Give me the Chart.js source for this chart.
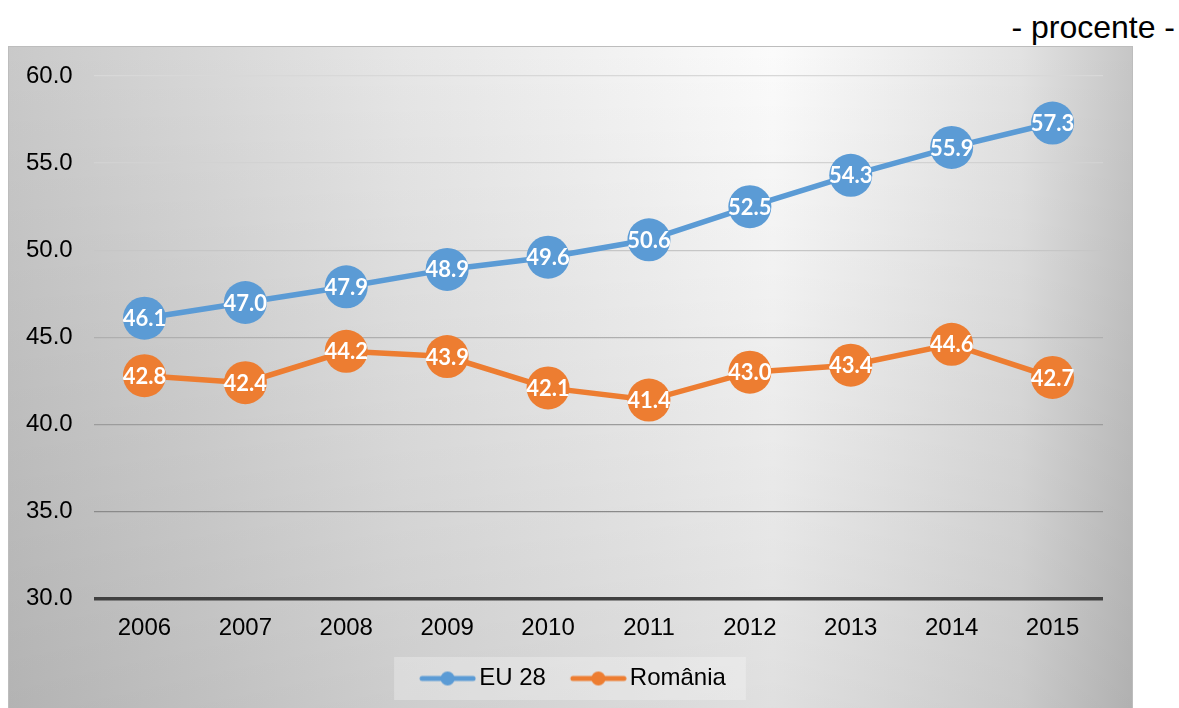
<!DOCTYPE html>
<html>
<head>
<meta charset="utf-8">
<script src="https://cdn.jsdelivr.net/npm/chart.js@4/dist/chart.umd.min.js"></script>
<style>
  html, body { margin: 0; padding: 0; background: #ffffff; }
  body { width: 1179px; height: 708px; position: relative; overflow: hidden; font-family: "Liberation Sans", Arial, sans-serif; }
  #unit { position: absolute; right: 4px; top: 11px; font-size: 32px; color: #000; line-height: 1; }
  #wrap { position: absolute; left: 8px; top: 46px; width: 1125px; height: 662px; }
</style>
</head>
<body>
<div id="unit">- procente -</div>
<div id="wrap"><canvas id="c"></canvas></div>
<script>
const categories = ["2006","2007","2008","2009","2010","2011","2012","2013","2014","2015"];
const eu28 = [46.1, 47.0, 47.9, 48.9, 49.6, 50.6, 52.5, 54.3, 55.9, 57.3];
const romania = [42.8, 42.4, 44.2, 43.9, 42.1, 41.4, 43.0, 43.4, 44.6, 42.7];
const seriesNames = ["EU 28", "România"];
const seriesColors = ["#5B9BD5", "#ED7D31"];
const yTicks = { min: 30, max: 60, step: 5 };

const gridColors = {60: "#d8d8d8", 55: "#d2d2d2", 50: "#c6c6c6", 45: "#afafaf", 40: "#9c9c9c", 35: "#8a8a8a", 30: "#404040"};

const LEG_PAD = 22;
const ICON_BOX = 50, ICON_W = 68;
function legendIcon(color) {
  const cv = document.createElement('canvas');
  cv.width = ICON_W; cv.height = 16;
  const g = cv.getContext('2d');
  const x0 = ICON_W - 57;
  g.strokeStyle = color; g.lineWidth = 5; g.lineCap = 'round';
  g.beginPath(); g.moveTo(x0 + 3, 8); g.lineTo(x0 + 54, 8); g.stroke();
  g.fillStyle = color; g.beginPath(); g.arc(x0 + 28.5, 8, 7, 0, Math.PI * 2); g.fill();
  return cv;
}

const legendShift = {
  id: 'legendShift',
  afterUpdate(chart) {
    const lg = chart.legend;
    if (!lg) return;
    lg.left += 14;
    lg.width -= 14;
  }
};

const bgPlugin = {
  id: 'bg',
  beforeDraw(chart) {
    const {ctx, width, height} = chart;
    ctx.save();
    const h = ctx.createLinearGradient(0, 0, width, 0);
    h.addColorStop(0, '#c9c9c9');
    h.addColorStop(0.35, '#e6e6e6');
    h.addColorStop(0.68, '#fbfbfb');
    h.addColorStop(0.9, '#e2e2e2');
    h.addColorStop(1, '#c6c6c6');
    ctx.fillStyle = h;
    ctx.fillRect(0, 0, width, height);
    const v = ctx.createLinearGradient(0, 0, 0, height);
    v.addColorStop(0, 'rgba(0,0,0,0)');
    v.addColorStop(1, 'rgba(0,0,0,0.11)');
    ctx.fillStyle = v;
    ctx.fillRect(0, 0, width, height);
    ctx.strokeStyle = '#bdbdbd'; ctx.lineWidth = 1;
    ctx.strokeRect(0.5, 0.5, width - 1, height);
    const lg = chart.legend;
    if (lg && lg.lineWidths && lg.lineWidths.length) {
      const lw = lg.lineWidths[0];
      const startX = (lg.left + LEG_PAD + lg.right - lw) / 2;
      const left = startX + ICON_BOX - 48 - 25;
      const right = startX + lw - LEG_PAD + 20;
      const cy = lg.top + LEG_PAD + 12;
      ctx.fillStyle = 'rgba(255,255,255,0.28)';
      ctx.fillRect(left, cy - 21.5, right - left, 43);
    }
    ctx.restore();
  }
};

const labelPlugin = {
  id: 'vlabels',
  afterDatasetsDraw(chart) {
    const {ctx} = chart;
    ctx.save();
    ctx.font = 'bold 22px Lato, "Open Sans", sans-serif';
    ctx.fillStyle = '#ffffff';
    ctx.textAlign = 'center';
    ctx.textBaseline = 'middle';
    chart.data.datasets.forEach((ds, i) => {
      const meta = chart.getDatasetMeta(i);
      meta.data.forEach((pt, j) => {
        ctx.fillText(ds.data[j].toFixed(1), pt.x, pt.y + 1);
      });
    });
    ctx.restore();
  }
};

const datasets = [eu28, romania].map((d, i) => ({
  label: seriesNames[i],
  data: d,
  borderColor: seriesColors[i],
  backgroundColor: seriesColors[i],
  pointBackgroundColor: seriesColors[i],
  pointBorderWidth: 0,
  pointRadius: 21.5,
  pointHoverRadius: 21.5,
  borderWidth: 5.5,
  tension: 0,
  clip: false
}));

new Chart(document.getElementById('c'), {
  type: 'line',
  data: { labels: categories, datasets },
  plugins: [legendShift, bgPlugin, labelPlugin],
  options: {
    responsive: true,
    maintainAspectRatio: false,
    animation: false,
    events: [],
    layout: { autoPadding: false, padding: { top: 30, right: 30, left: 18, bottom: 7.5 } },
    plugins: {
      tooltip: { enabled: false },
      legend: {
        position: 'bottom',
        labels: {
          font: { family: '"Liberation Sans", Arial, sans-serif', size: 24 },
          color: '#000000',
          usePointStyle: true,
          pointStyleWidth: ICON_BOX,
          boxHeight: 24,
          padding: LEG_PAD,
          generateLabels(chart) {
            const items = Chart.defaults.plugins.legend.labels.generateLabels(chart);
            items.forEach((it, k) => { it.pointStyle = legendIcon(seriesColors[k]); });
            return items;
          }
        }
      }
    },
    scales: {
      x: {
        offset: true,
        afterFit(scale) { scale.height -= 13; },
        grid: { display: false, drawTicks: false },
        border: { display: false },
        ticks: { font: { family: '"Liberation Sans", Arial, sans-serif', size: 24 }, color: '#000', padding: 15, maxRotation: 0 }
      },
      y: {
        min: yTicks.min, max: yTicks.max,
        afterFit(scale) { scale.width = 68; },
        border: { display: false },
        grid: {
          drawTicks: false,
          color: (c) => gridColors[c.tick.value] || '#cccccc',
          lineWidth: (c) => c.tick.value === yTicks.min ? 3.5 : 1.3
        },
        ticks: {
          stepSize: yTicks.step,
          padding: 0,
          crossAlign: 'far',
          font: { family: '"Liberation Sans", Arial, sans-serif', size: 24 },
          color: '#000',
          callback: (v) => v.toFixed(1)
        }
      }
    }
  }
});
</script>
</body>
</html>
